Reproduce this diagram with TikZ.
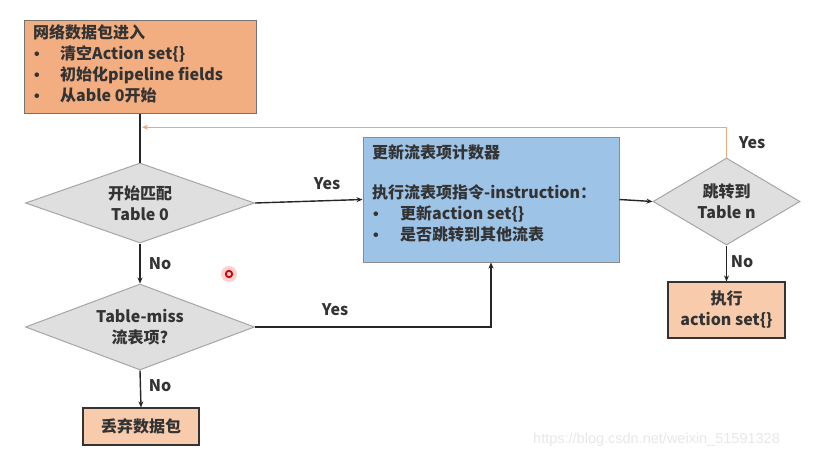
\documentclass[tikz,border=0pt]{standalone}
\usepackage{fontspec}
\setmainfont{Noto Sans CJK SC}
\newfontfamily\urlfont{Liberation Sans}
\usetikzlibrary{shapes.geometric,arrows.meta,calc}
\definecolor{txt}{HTML}{333333}
\definecolor{peach}{HTML}{F2AD80}
\definecolor{peachlight}{HTML}{F8CBAD}
\definecolor{skyfill}{HTML}{9DC3E6}
\definecolor{greyfill}{HTML}{DFDFDF}
\definecolor{loopline}{HTML}{EDA977}
\newcommand{\bul}[1]{\makebox[#1][l]{\hspace{1pt}{\urlfont\bfseries •}}}
\tikzset{
  base/.style={font=\bfseries\fontsize{16}{21}\selectfont, text=txt},
  startbox/.style={draw=black!55, line width=1pt, fill=peach, inner sep=0pt},
  endbox/.style={draw=black!80, line width=1.2pt, fill=peachlight, inner sep=0pt, align=center, base},
  actbox/.style={draw=black!45, line width=1pt, fill=skyfill, inner sep=0pt},
  decision/.style={diamond, draw=black!35, line width=1pt, fill=greyfill, inner sep=0pt,
    aspect=2.8, align=center, base},
  flow/.style={draw=black!85, line width=1.4pt, -{Stealth[length=6pt,width=5pt]}},
  plainflow/.style={draw=black!85, line width=1.4pt},
  lbl/.style={base},
}
\begin{document}
\begin{tikzpicture}[x=1pt,y=-1pt]
\useasboundingbox (0,0) rectangle (814,459);
\fill[white] (0,0) rectangle (814,459);

% boxes
\node[startbox, minimum width=232pt, minimum height=93pt] (start) at (140,66.5) {};
\node[base, anchor=north west, align=left, inner sep=0pt] (starttext) at (33,24.5)
  {网络数据包进入\\
   \bul{27pt}清空Action set\{\}\\
   \bul{27pt}初始化pipeline fields\\
   \bul{27pt}从able 0开始};

\node[actbox, minimum width=256pt, minimum height=125pt] (act) at (491,199.5) {};
\node[base, anchor=north west, align=left, inner sep=0pt] (acttext) at (372,144)
  {更新流表项计数器\\[19.5pt]
   执行流表项指令-instruction：\\
   \bul{28pt}更新action set\{\}\\
   \bul{28pt}是否跳转到其他流表};

\node[decision, minimum width=229pt, minimum height=80pt] (d1) at (140,203) {开始匹配\\Table 0};
\node[decision, minimum width=229pt, minimum height=86pt] (d2) at (140,327) {Table-miss\\流表项?};
\node[decision, aspect=1.7, minimum width=147pt, minimum height=87pt] (d3) at (726.5,201.5) {跳转到\\Table n};

\node[endbox, minimum width=117pt, minimum height=56pt] (exec) at (726.5,310) {执行\\action set\{\}};
\node[endbox, minimum width=116pt, minimum height=37pt] (drop) at (141,426.5) {丢弃数据包};

% connectors
\draw[plainflow] (start.south) -- (d1.north);
\draw[flow] (d1.east) -- (act.west);
\draw[flow] (act.east) -- (d3.west);
\draw[flow] (d1.south) -- (d2.north);
\draw[flow] (d2.east) -| (act.south);
\draw[flow] (d2.south) -- (drop.north);
\draw[flow] (d3.south) -- (exec.north);
\coordinate (loopend) at ($(start.south)!0.28!(d1.north)+(2,0)$);
\draw[loopline, line width=1.3pt, -{Stealth[length=6pt,width=5pt]}] (d3.north) |- (loopend);

% labels
\node[lbl] (y1) at (327,184) {Yes};
\node[lbl] (y2) at (752,143) {Yes};
\node[lbl] (y3) at (335,310) {Yes};
\node[lbl] (n1) at (160,264) {No};
\node[lbl] (n2) at (160,386) {No};
\node[lbl] (n3) at (742,262) {No};

% pointer mark
\fill[red!30, opacity=0.6] (229,274) circle (8pt);
\draw[red!85!black, line width=1.8pt] (229,274) circle (3.2pt);

% watermark
\node[font=\urlfont\fontsize{14.5}{16}\selectfont, text=black!9, anchor=west, inner sep=0pt] (mark) at (533,440) {https://blog.csdn.net/weixin\_51591328};
\end{tikzpicture}
\end{document}
